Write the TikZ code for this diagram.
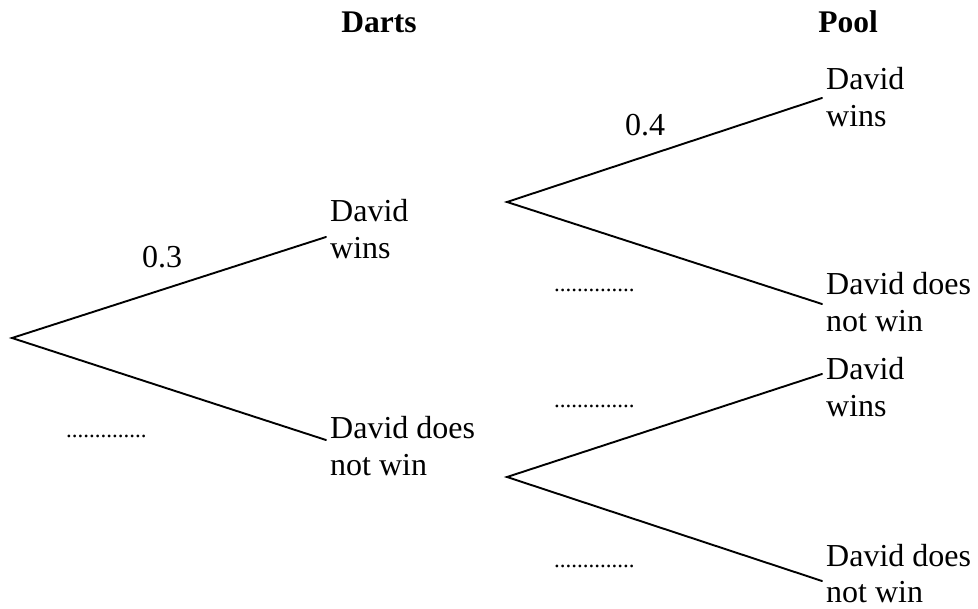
\documentclass[tikz,border=0pt]{standalone}
\usepackage{fontspec}
\setmainfont{Liberation Serif}
\begin{document}
\begin{tikzpicture}[x=1pt,y=-1pt,
  branch/.style={line width=1.9pt, line cap=round, line join=miter},
  lbl/.style={anchor=base west, inner sep=0pt, font=\fontsize{32}{36.5}\selectfont},
  head/.style={anchor=base, inner sep=0pt, font=\fontsize{31.5}{36}\selectfont\bfseries},
  prob/.style={anchor=base, inner sep=0pt, font=\fontsize{32}{36}\selectfont},
  blank/.style={anchor=base west, inner sep=0pt, font=\fontsize{23}{26}\selectfont}]
\useasboundingbox (0,0) rectangle (978,609);
% branch points
\coordinate (r) at (12,338);
\coordinate (a1) at (326,237);
\coordinate (a2) at (326,440);
\coordinate (b1) at (507,202);
\coordinate (b2) at (507,477);
\coordinate (c1) at (822,98);
\coordinate (c2) at (822,304);
\coordinate (c3) at (822,374);
\coordinate (c4) at (822,581);
% connectors
\draw[branch] (a1) -- (r) -- (a2);
\draw[branch] (c1) -- (b1) -- (c2);
\draw[branch] (c3) -- (b2) -- (c4);
% headings
\node[head] (hd) at (379,33) {Darts};
\node[head] (hp) at (848,33) {Pool};
% labels
\newcommand{\twol}[2]{\begin{tabular}[t]{@{}l@{}}#1\\#2\end{tabular}}
\node[lbl] (la1) at (330,222) {\twol{David}{wins}};
\node[lbl] (la2) at (330,439) {\twol{David does}{not win}};
\node[lbl] (lc1) at (826,90) {\twol{David}{wins}};
\node[lbl] (lc2) at (826,295) {\twol{David does}{not win}};
\node[lbl] (lc3) at (826,380) {\twol{David}{wins}};
\node[lbl] (lc4) at (826,566) {\twol{David does}{not win}};
% probabilities
\node[prob] (p1) at (162,268) {0.3};
\node[prob] (p2) at (645,136) {0.4};
\node[blank] (d1) at (66,438) {..............};
\node[blank] (d2) at (554,292) {..............};
\node[blank] (d3) at (554,408) {..............};
\node[blank] (d4) at (554,568) {..............};
\end{tikzpicture}
\end{document}
